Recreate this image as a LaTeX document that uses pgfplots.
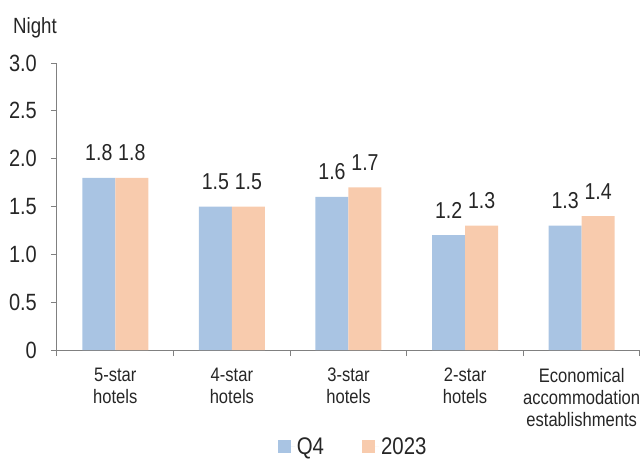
\documentclass[border=0pt]{standalone}
\usepackage{fontspec}
\setmainfont{Liberation Sans}[FakeStretch=0.85]
\usepackage{pgfplots}
\pgfplotsset{compat=1.18}

\definecolor{qblue}{RGB}{169,196,227}
\definecolor{qorange}{RGB}{248,203,173}
\definecolor{axgray}{RGB}{128,128,128}
\definecolor{txt}{RGB}{38,38,38}

\begin{document}
\begin{tikzpicture}
\begin{axis}[
    at={(0pt,0pt)}, anchor=south west,
    scale only axis,
    width=583pt, height=287pt,
    ybar=0pt, bar width=33pt,
    xmin=-0.5, xmax=4.5,
    ymin=0, ymax=3,
    axis x line*=bottom, axis y line*=left,
    axis line style={axgray, line width=1pt},
    tick align=outside,
    xtick={0,1,2,3,4},
    xticklabels={{5-star\\hotels},{4-star\\hotels},{3-star\\hotels},{2-star\\hotels},{Economical\\accommodation\\establishments}},
    major x tick style={draw=none},
    minor xtick={-0.5,0.5,1.5,2.5,3.5,4.5},
    minor tick length=6pt,
    minor x tick style={axgray, line width=1pt},
    ytick={0,0.5,1,1.5,2,2.5,3},
    yticklabels={0,0.5,1.0,1.5,2.0,2.5,3.0},
    major tick length=6pt,
    major y tick style={axgray, line width=1pt},
    yticklabel style={font=\fontsize{23.5}{25}\selectfont, text=txt, anchor=east, inner sep=0pt, xshift=-14pt},
    xticklabel style={font=\fontsize{19.5}{22}\selectfont, text=txt, align=center, anchor=north, inner sep=0pt, yshift=-12pt},
    nodes near coords={\pgfmathprintnumber[fixed,fixed zerofill,precision=1,assume math mode=true]{\pgfplotspointmeta}},
    every node near coord/.append style={font=\fontsize{23}{25}\selectfont, text=txt, anchor=base, inner sep=0pt, yshift=17pt},
    legend style={at={(0.508,-0.337)}, anchor=center, draw=none, fill=none,
        font=\fontsize{24}{25}\selectfont, text=txt,
        /tikz/every even column/.append style={column sep=36pt}},
    legend columns=2,
    legend image code/.code={\fill[#1] (0pt,-6.5pt) rectangle (13pt,6.5pt); \path (0pt,0pt) -- (17pt,0pt);},
    clip=false,
]
\addplot[fill=qblue, draw=none] coordinates {(0,1.8) (1,1.5) (2,1.6) (3,1.2) (4,1.3)};
\addlegendentry{Q4}
\addplot[fill=qorange, draw=none] coordinates {(0,1.8) (1,1.5) (2,1.7) (3,1.3) (4,1.4)};
\addlegendentry{2023}
\end{axis}
\node[anchor=base west, inner sep=0pt, font=\fontsize{22}{24}\selectfont, text=txt] at (-44pt,317pt) {Night};
\pgfresetboundingbox
\path[use as bounding box] (-57pt,-109pt) rectangle (584pt,350pt);
\end{tikzpicture}
\end{document}
